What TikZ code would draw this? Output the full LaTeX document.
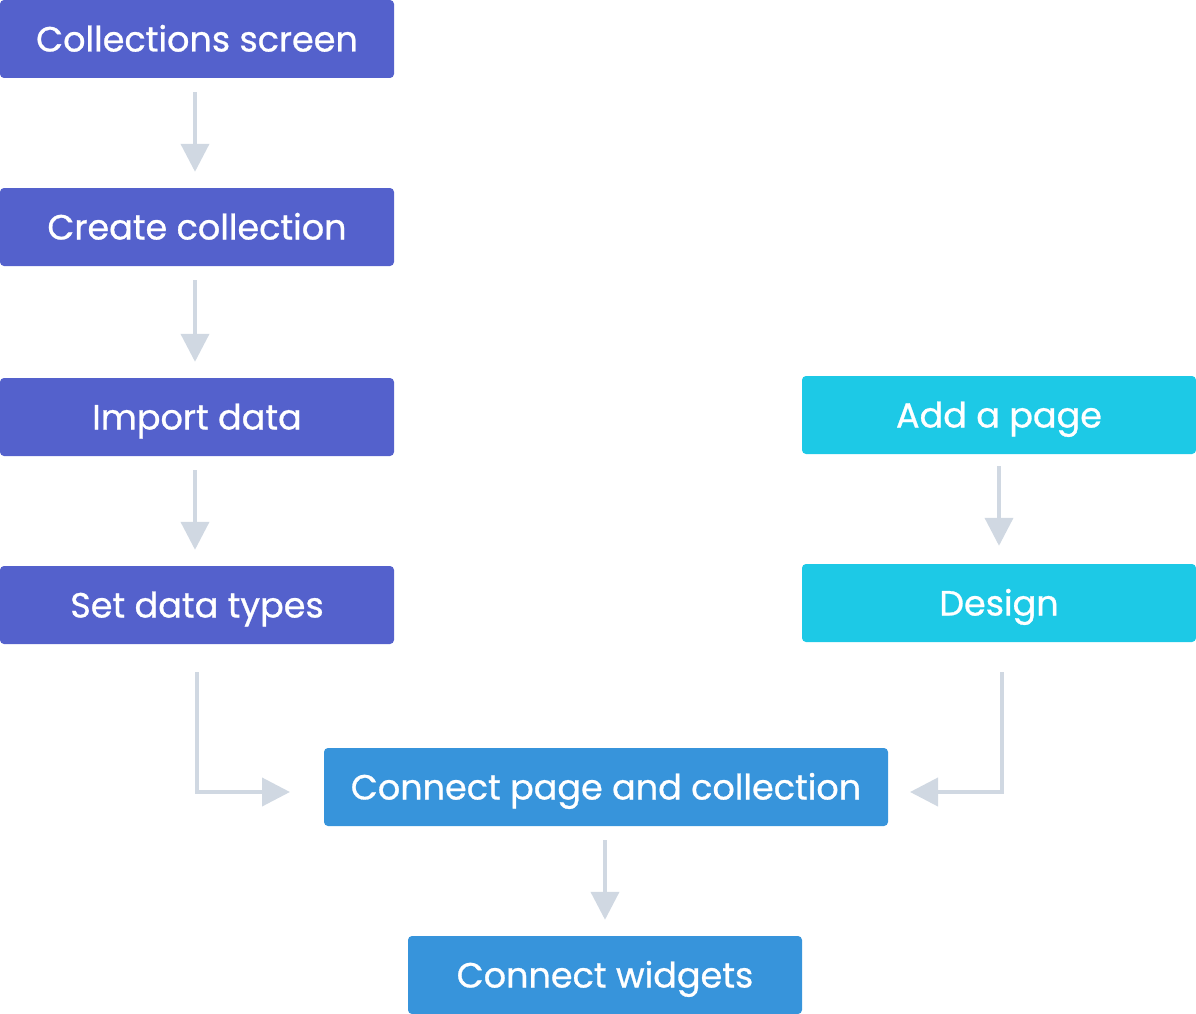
\documentclass[tikz,border=0pt]{standalone}
\usepackage{fontspec}
\setmainfont{Poppins}
\newfontfamily\boxfont{Poppins}[FakeBold=0.8]
\usetikzlibrary{arrows.meta}
\definecolor{violetbox}{RGB}{84,97,204}
\definecolor{cyanbox}{RGB}{29,201,230}
\definecolor{bluebox}{RGB}{55,148,219}
\definecolor{arrowgrey}{RGB}{208,216,226}
\tikzset{flowarrow/.style={draw=arrowgrey,line width=4pt,-{Triangle[length=28pt,width=28pt]}}}
\begin{document}
\begin{tikzpicture}[x=1pt,y=-1pt]

      \useasboundingbox (0,0) rectangle (1196,1014);

      \begin{scope}[every node/.style={rectangle,rounded corners=4pt,minimum height=78pt,
          text=white,font=\boxfont\fontsize{35}{38}\selectfont,inner sep=0pt,
          text height=25pt,text depth=0pt}]
        \node[fill=violetbox,minimum width=394pt] (1) at (197,39)  {Collections screen};
        \node[fill=violetbox,minimum width=394pt] (2) at (197,227) {Create collection};
        \node[fill=violetbox,minimum width=394pt] (3) at (197,417) {Import data};
        \node[fill=violetbox,minimum width=394pt] (4) at (197,605) {Set data types};
        \node[fill=cyanbox,minimum width=394pt]   (5) at (999,415) {Add a page};
        \node[fill=cyanbox,minimum width=394pt]   (6) at (999,603) {Design};
        \node[fill=bluebox,minimum width=564pt]   (7) at (606,787) {Connect page and collection};
        \node[fill=bluebox,minimum width=394pt]   (8) at (605,975) {Connect widgets};
      \end{scope}

      \begin{scope}[every edge/.style={flowarrow,shorten <=14pt,shorten >=16pt}]
        \path (1.south -| 195,0) edge (2.north -| 195,0);
        \path (2.south -| 195,0) edge (3.north -| 195,0);
        \path (3.south -| 195,0) edge (4.north -| 195,0);
        \path (5.south -| 999,0) edge[shorten <=12pt,shorten >=18pt] (6.north -| 999,0);
        \path (7.south -| 605,0) edge (8.north -| 605,0);
      \end{scope}

      \coordinate (a) at (197,672);
      \coordinate (b) at (290,792);
      \coordinate (c) at (1002,672);
      \coordinate (d) at (910,792);
      \draw[flowarrow] (a) |- (b);
      \draw[flowarrow] (c) |- (d);

    \end{tikzpicture}
\end{document}
